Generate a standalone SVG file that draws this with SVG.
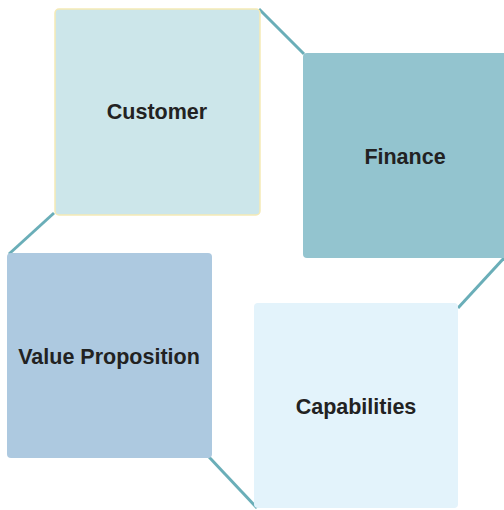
<svg xmlns="http://www.w3.org/2000/svg" width="504" height="510" viewBox="0 0 504 510">
<style>
.lbl{font-family:"Liberation Sans",Arial,sans-serif;font-weight:bold;font-size:21.5px;fill:#222;text-anchor:middle}
.con{stroke:#6aaeb8;stroke-width:3;fill:none}
</style>
<rect width="504" height="510" fill="#fff"/>
<g id="connectors">
<line class="con" x1="259" y1="9" x2="304" y2="54"/>
<line class="con" x1="504" y1="258" x2="458" y2="308"/>
<line class="con" x1="54" y1="213" x2="9" y2="254"/>
<line class="con" x1="209" y1="457" x2="257" y2="508"/>
</g>
<g id="customer">
<rect x="55" y="9" width="205" height="206" rx="4" fill="#cce6ea" stroke="#f5eab5" stroke-width="1.5"/>
<text class="lbl" x="157" y="119">Customer</text>
</g>
<g id="finance">
<rect x="303" y="53" width="206" height="205" rx="4" fill="#93c4cf"/>
<text class="lbl" x="405" y="164">Finance</text>
</g>
<g id="value">
<rect x="7" y="253" width="205" height="205" rx="4" fill="#adc9e0"/>
<text class="lbl" x="109" y="364">Value Proposition</text>
</g>
<g id="capabilities">
<rect x="254" y="303" width="204" height="205" rx="4" fill="#e3f3fb"/>
<text class="lbl" x="356" y="414">Capabilities</text>
</g>
</svg>
